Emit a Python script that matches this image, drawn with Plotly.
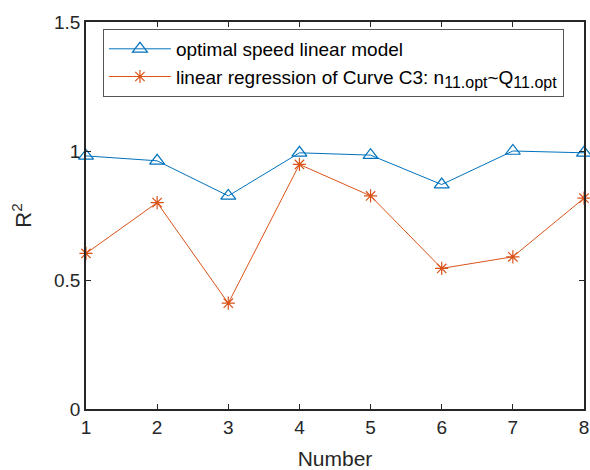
import plotly.graph_objects as go

numbers = [1, 2, 3, 4, 5, 6, 7, 8]
optimal_speed_r2 = [0.981, 0.962, 0.826, 0.993, 0.984, 0.870, 1.000, 0.993]
curve_c3_r2 = [0.603, 0.800, 0.410, 0.948, 0.826, 0.545, 0.590, 0.817]
y_ticks = [0, 0.5, 1, 1.5]
y_tick_labels = ["0", "0.5", "1", "1.5"]

FONT = "Liberation Sans, Arial, sans-serif"
AX = "#262626"

fig = go.Figure()
fig.add_trace(go.Scatter(
    x=numbers, y=optimal_speed_r2, mode="lines+markers",
    name="optimal speed linear model", legendgroup="a",
    line=dict(color="#0072BD", width=1),
    marker=dict(symbol="triangle-up-open", size=13, color="#0072BD",
                line=dict(width=1.2, color="#0072BD")),
    cliponaxis=False,
))
fig.add_trace(go.Scatter(
    x=numbers, y=curve_c3_r2, mode="lines+markers",
    name="linear regression of Curve C3: n<sub><span style='font-size:16px'>11.opt</span></sub>~Q<sub><span style='font-size:16px'>11.opt</span></sub>",
    legendgroup="b",
    line=dict(color="#D95319", width=1),
    marker=dict(symbol="asterisk-open", size=11, color="#D95319",
                line=dict(width=1.2, color="#D95319")),
    cliponaxis=False,
))

fig.update_layout(
    width=590, height=470,
    margin=dict(l=86, r=6, t=22, b=61),
    paper_bgcolor="white", plot_bgcolor="white",
    font=dict(family=FONT, size=19, color=AX),
    showlegend=True,
    legend=dict(
        x=0.034, y=0.982, xanchor="left", yanchor="top",
        bgcolor="white", bordercolor="#555555", borderwidth=1,
        font=dict(family=FONT, size=19, color="black"),
        tracegroupgap=0, itemwidth=62,
    ),
    xaxis=dict(
        range=[1, 8], tickvals=numbers, ticks="inside", ticklen=5, tickwidth=1,
        tickcolor=AX, showline=True, linecolor=AX, linewidth=1.5, mirror="ticks",
        showgrid=False, zeroline=False, automargin=False,
        title=dict(text="Number", font=dict(size=21, color=AX), standoff=24),
        tickfont=dict(size=19, color=AX),
    ),
    yaxis=dict(
        range=[0, 1.5], tickvals=y_ticks, ticktext=y_tick_labels,
        ticks="inside", ticklen=5, tickwidth=1,
        tickcolor=AX, showline=True, linecolor=AX, linewidth=1.5, mirror="ticks",
        showgrid=False, zeroline=False, automargin=False,
        title=dict(text="R<sup>2</sup>", font=dict(size=22, color=AX), standoff=16),
        tickfont=dict(size=19, color=AX),
    ),
)

fig.write_html("out.html", config={"displayModeBar": False},
               post_script="document.body.style.margin='0';document.body.style.overflow='hidden';")
